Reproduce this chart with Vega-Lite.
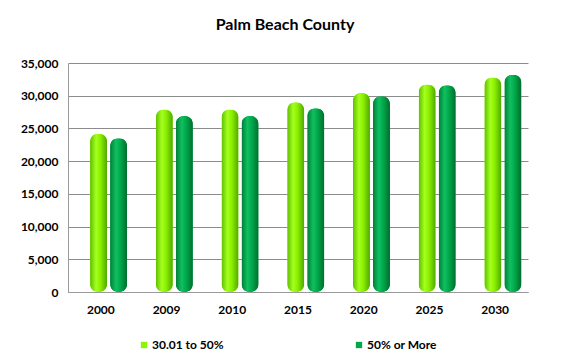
{
  "$schema": "https://vega.github.io/schema/vega-lite/v6.json",
  "width": 460,
  "height": 229,
  "autosize": {"type": "none"},
  "padding": {"left": 68, "top": 63, "right": 42, "bottom": 70},
  "background": "white",
  "title": {
    "text": "Palm Beach County",
    "font": "Lato",
    "fontSize": 16,
    "fontWeight": "bold",
    "color": "#000000",
    "anchor": "middle",
    "dx": -13,
    "offset": 24
  },
  "config": {
    "view": {"stroke": null},
    "font": "Lato"
  },
  "data": {
    "values": [
      {"year": "2000", "series": "30.01 to 50%", "value": 24200},
      {"year": "2000", "series": "50% or More", "value": 23500},
      {"year": "2009", "series": "30.01 to 50%", "value": 27900},
      {"year": "2009", "series": "50% or More", "value": 26900},
      {"year": "2010", "series": "30.01 to 50%", "value": 27900},
      {"year": "2010", "series": "50% or More", "value": 26900},
      {"year": "2015", "series": "30.01 to 50%", "value": 29000},
      {"year": "2015", "series": "50% or More", "value": 28100},
      {"year": "2020", "series": "30.01 to 50%", "value": 30400},
      {"year": "2020", "series": "50% or More", "value": 29900},
      {"year": "2025", "series": "30.01 to 50%", "value": 31700},
      {"year": "2025", "series": "50% or More", "value": 31600},
      {"year": "2030", "series": "30.01 to 50%", "value": 32800},
      {"year": "2030", "series": "50% or More", "value": 33200}
    ]
  },
  "encoding": {
    "x": {
      "field": "year",
      "type": "nominal",
      "sort": null,
      "scale": {"paddingInner": 0, "paddingOuter": 0},
      "axis": {
        "title": null,
        "labelAngle": 0,
        "labelFont": "Lato",
        "labelFontSize": 12,
        "labelFontWeight": "bold",
        "labelColor": "#000000",
        "labelPadding": 12,
        "ticks": false,
        "domainColor": "#9a9a9a",
        "grid": false
      }
    },
    "xOffset": {
      "field": "series",
      "type": "nominal",
      "scale": {"domain": ["30.01 to 50%", "50% or More"], "paddingInner": 0.15, "paddingOuter": 0.715, "align": 0.77}
    },
    "y": {
      "field": "value",
      "type": "quantitative",
      "scale": {"domain": [0, 35000], "nice": false},
      "axis": {
        "title": null,
        "values": [0, 5000, 10000, 15000, 20000, 25000, 30000, 35000],
        "format": ",.0f",
        "labelFont": "Lato",
        "labelFontSize": 12,
        "labelFontWeight": "bold",
        "labelColor": "#000000",
        "labelPadding": 10,
        "ticks": false,
        "domainColor": "#9a9a9a",
        "grid": true,
        "gridColor": "#8c8c8c",
        "gridWidth": 1
      }
    }
  },
  "layer": [
    {
      "mark": {"type": "bar", "cornerRadius": 8},
      "encoding": {
        "color": {
          "field": "series",
          "type": "nominal",
          "scale": {"domain": ["30.01 to 50%", "50% or More"], "range": ["#8CF500", "#00A84C"]},
          "legend": {
            "title": null,
            "orient": "none",
            "direction": "horizontal",
            "legendX": 70,
            "legendY": 276,
            "symbolType": "square",
            "symbolSize": 40,
            "symbolStrokeWidth": 0,
            "labelFont": "Lato",
            "labelFontSize": 12,
            "labelFontWeight": "bold",
            "labelColor": "#000000",
            "labelOffset": 2,
            "columnPadding": 129
          }
        }
      }
    },
    {
      "transform": [{"filter": "datum.series === '30.01 to 50%'"}],
      "mark": {
        "type": "bar",
        "cornerRadius": 8,
        "color": {
          "gradient": "linear", "x1": 0, "x2": 1, "y1": 0, "y2": 0,
          "stops": [
            {"offset": 0, "color": "#5EBE00"},
            {"offset": 0.35, "color": "#A4FF1E"},
            {"offset": 0.6, "color": "#8CF000"},
            {"offset": 1, "color": "#4FA800"}
          ]
        }
      }
    },
    {
      "transform": [{"filter": "datum.series === '50% or More'"}],
      "mark": {
        "type": "bar",
        "cornerRadius": 8,
        "color": {
          "gradient": "linear", "x1": 0, "x2": 1, "y1": 0, "y2": 0,
          "stops": [
            {"offset": 0, "color": "#007E36"},
            {"offset": 0.35, "color": "#10C060"},
            {"offset": 0.6, "color": "#00A84C"},
            {"offset": 1, "color": "#006E2E"}
          ]
        }
      }
    }
  ]
}
